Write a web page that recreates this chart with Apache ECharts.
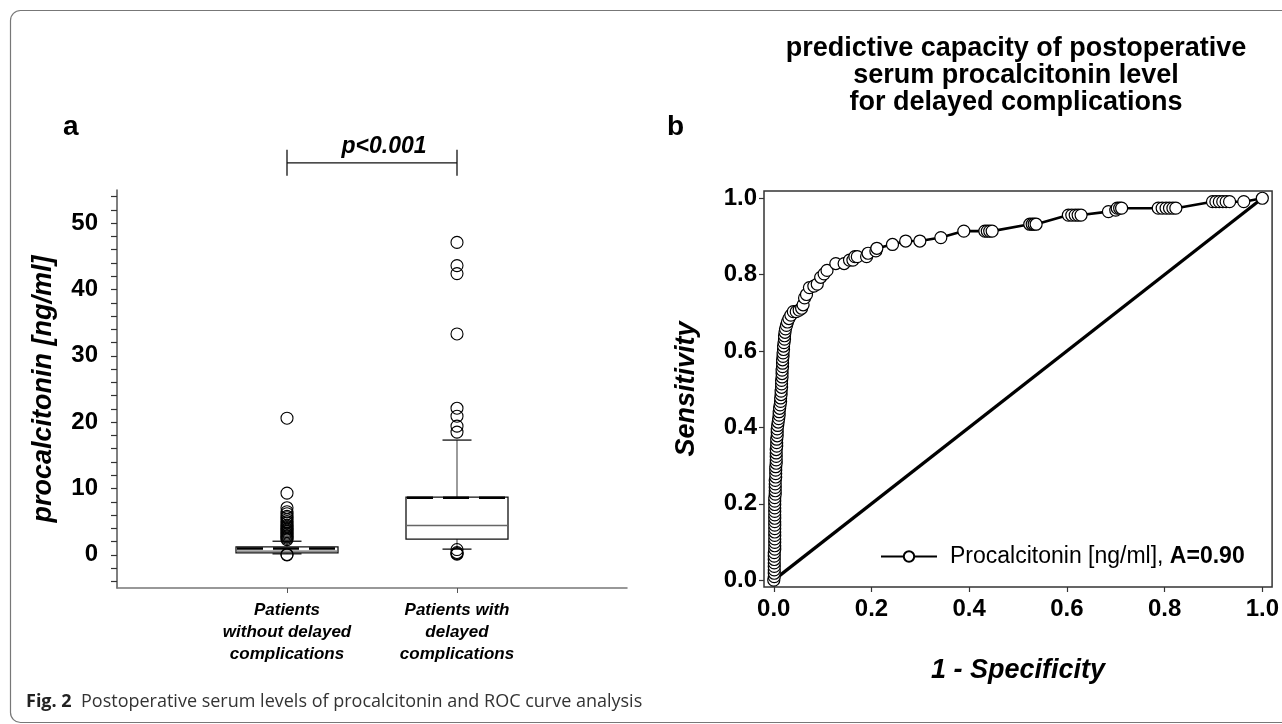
<!DOCTYPE html>
<html>
<head>
<meta charset="utf-8">
<script src="https://cdn.jsdelivr.net/npm/echarts@6/dist/echarts.min.js"></script>
<style>
html,body{margin:0;padding:0;background:#fff;}
#chart{width:1282px;height:724px;}
</style>
</head>
<body>
<div id="chart"></div>
<script>
// ---------- DATA ----------
const categories = ['', 'Patients\nwithout delayed\ncomplications', 'Patients with\ndelayed\ncomplications', ''];
// [min, Q1, median, Q3, max] per group
const boxWithout = [0.15, 0.3, 0.55, 1.2, 2.05];
const boxWith = [0.86, 2.37, 4.42, 8.7, 17.3];
const meanWithout = 0.95;
const meanWith = 8.6;
const outliersWithout = [20.6, 9.3, 7.1, 6.5, 6.2, 5.8, 5.6, 5.3, 5.0, 4.8, 4.5, 4.3, 4.1, 3.9, 3.7, 3.5, 3.3, 3.1, 2.9, 2.7, 2.5, 2.3, 0.05, 0.0];
const outliersWith = [47.1, 43.6, 42.4, 33.3, 22.1, 20.9, 19.4, 18.5, 0.8, 0.35, 0.2, 0.1];
const yTicksA = [-4, -2, 0, 2, 4, 6, 8, 10, 12, 14, 16, 18, 20, 22, 24, 26, 28, 30, 32, 34, 36, 38, 40, 42, 44, 46, 48, 50, 52, 54];
const yLabelsA = [0, 10, 20, 30, 40, 50];
const pValueText = 'p<0.001';

const rocFpr = [0, 0.001, 0.001, 0.001, 0.001, 0.001, 0.001, 0.001, 0.001, 0.002,
  0.002, 0.002, 0.002, 0.002, 0.002, 0.002, 0.002, 0.002, 0.002, 0.002,
  0.002, 0.002, 0.002, 0.002, 0.002, 0.003, 0.003, 0.003, 0.003, 0.003,
  0.004, 0.004, 0.004, 0.004, 0.005, 0.005, 0.005, 0.005, 0.005, 0.006,
  0.006, 0.006, 0.007, 0.007, 0.007, 0.008, 0.009, 0.010, 0.011, 0.011,
  0.012, 0.013, 0.014, 0.014, 0.015, 0.015, 0.016, 0.016, 0.016, 0.017,
  0.017, 0.017, 0.018, 0.018, 0.018, 0.019, 0.019, 0.020, 0.020, 0.021,
  0.022, 0.022, 0.023, 0.024, 0.026, 0.028, 0.031, 0.035, 0.040, 0.046,
  0.052, 0.057, 0.060, 0.063, 0.067, 0.073, 0.082, 0.089, 0.096, 0.103,
  0.109, 0.127, 0.144, 0.155, 0.162, 0.166, 0.171, 0.190, 0.193, 0.209,
  0.211, 0.243, 0.270, 0.299, 0.342, 0.389, 0.432, 0.437, 0.442, 0.447,
  0.524, 0.529, 0.533, 0.537, 0.603, 0.610, 0.617, 0.623, 0.629, 0.685,
  0.700, 0.703, 0.708, 0.712, 0.787, 0.795, 0.803, 0.810, 0.817, 0.823,
  0.898, 0.905, 0.912, 0.919, 0.926, 0.933, 0.962, 1.0];
const rocTpr = [0, 0.009, 0.018, 0.027, 0.036, 0.045, 0.054, 0.063, 0.072, 0.081,
  0.090, 0.099, 0.108, 0.117, 0.126, 0.135, 0.144, 0.153, 0.162, 0.171,
  0.180, 0.189, 0.198, 0.207, 0.216, 0.225, 0.234, 0.243, 0.252, 0.261,
  0.270, 0.279, 0.288, 0.297, 0.306, 0.315, 0.324, 0.333, 0.342, 0.351,
  0.360, 0.369, 0.378, 0.387, 0.396, 0.405, 0.414, 0.423, 0.432, 0.441,
  0.450, 0.459, 0.468, 0.477, 0.486, 0.495, 0.505, 0.514, 0.523, 0.532,
  0.541, 0.550, 0.559, 0.568, 0.577, 0.586, 0.595, 0.604, 0.613, 0.622,
  0.631, 0.640, 0.649, 0.658, 0.667, 0.676, 0.685, 0.694, 0.703, 0.703,
  0.707, 0.712, 0.721, 0.739, 0.748, 0.766, 0.770, 0.775, 0.793, 0.802,
  0.811, 0.829, 0.829, 0.838, 0.838, 0.847, 0.847, 0.847, 0.856, 0.862,
  0.869, 0.879, 0.888, 0.888, 0.897, 0.914, 0.914, 0.914, 0.914, 0.914,
  0.932, 0.932, 0.932, 0.932, 0.956, 0.956, 0.956, 0.956, 0.956, 0.965,
  0.969, 0.974, 0.974, 0.974, 0.974, 0.974, 0.974, 0.974, 0.974, 0.974,
  0.991, 0.991, 0.991, 0.991, 0.991, 0.991, 0.991, 1.0];
const diagX = [0, 1];
const diagY = [0, 1];
const rocTicks = [0, 0.2, 0.4, 0.6, 0.8, 1.0];
const legendLabel = 'Procalcitonin [ng/ml], ';
const aucLabel = 'A=0.90';
const titleLines = ['predictive capacity of postoperative', 'serum procalcitonin level', 'for delayed complications'];
const yNameA = 'procalcitonin [ng/ml]';
const yNameB = 'Sensitivity';
const xNameB = '1 - Specificity';
const captionBold = 'Fig. 2';
const captionText = 'Postoperative serum levels of procalcitonin and ROC curve analysis';

// ---------- BUILD ----------
const FONT = '"Liberation Sans", Arial, sans-serif';
const boxData = [[1].concat(boxWithout, [meanWithout]), [2].concat(boxWith, [meanWith])];
const outlierData = outliersWithout.map(v => [1, v]).concat(outliersWith.map(v => [2, v]));
const rocData = rocFpr.map((x, i) => [x, rocTpr[i]]);
const diagData = diagX.map((x, i) => [x, diagY[i]]);

function renderBox(params, api) {
  const x = api.value(0);
  const pMin = api.coord([x, api.value(1)]);
  const pQ1 = api.coord([x, api.value(2)]);
  const pMed = api.coord([x, api.value(3)]);
  const pQ3 = api.coord([x, api.value(4)]);
  const pMax = api.coord([x, api.value(5)]);
  const pMean = api.coord([x, api.value(6)]);
  const cx = pQ1[0];
  const hw = 51, cw = 14.5;
  const wStyle = { stroke: '#666', lineWidth: 1.3 };
  const cStyle = { stroke: '#111', lineWidth: 1.3 };
  return {
    type: 'group',
    children: [
      { type: 'line', shape: { x1: cx, y1: pQ3[1], x2: cx, y2: pMax[1] }, style: wStyle },
      { type: 'line', shape: { x1: cx, y1: pQ1[1], x2: cx, y2: pMin[1] }, style: wStyle },
      { type: 'line', shape: { x1: cx - cw, y1: pMax[1], x2: cx + cw, y2: pMax[1] }, style: cStyle },
      { type: 'line', shape: { x1: cx - cw, y1: pMin[1], x2: cx + cw, y2: pMin[1] }, style: cStyle },
      { type: 'rect', shape: { x: cx - hw, y: pQ3[1], width: hw * 2, height: pQ1[1] - pQ3[1] },
        style: { fill: '#fff', stroke: '#111', lineWidth: 1.3 } },
      { type: 'line', shape: { x1: cx - hw, y1: pMed[1], x2: cx + hw, y2: pMed[1] }, style: { stroke: '#666', lineWidth: 1.3 } },
      { type: 'line', shape: { x1: cx - hw + 1, y1: pMean[1], x2: cx + hw - 1, y2: pMean[1] },
        style: { stroke: '#000', lineWidth: 2.5, lineDash: [26, 10] } }
    ]
  };
}

function renderBracket(params, api) {
  const p1 = api.coord([api.value(0), api.value(2)]);
  const p2 = api.coord([api.value(1), api.value(2)]);
  const y = p1[1];
  return {
    type: 'group',
    children: [
      { type: 'line', shape: { x1: p1[0], y1: y, x2: p2[0], y2: y }, style: { stroke: '#111', lineWidth: 1.3 } },
      { type: 'line', shape: { x1: p1[0], y1: y - 13, x2: p1[0], y2: y + 13 }, style: { stroke: '#111', lineWidth: 1.3 } },
      { type: 'line', shape: { x1: p2[0], y1: y - 13, x2: p2[0], y2: y + 13 }, style: { stroke: '#111', lineWidth: 1.3 } },
      { type: 'text', x: (p1[0] + p2[0]) / 2 + 12, y: y - 16,
        style: { text: pValueText, font: 'italic bold 23px ' + FONT, fill: '#000', align: 'center', verticalAlign: 'middle' } }
    ]
  };
}

const chart = echarts.init(document.getElementById('chart'), null, { renderer: 'canvas' });
const tickLabelStyle = { fontFamily: FONT, fontWeight: 'bold', fontSize: 24, color: '#000' };
const axisNameStyle = { fontFamily: FONT, fontWeight: 'bold', fontStyle: 'italic', fontSize: 27, color: '#000' };

const option = {
  animation: false,
  backgroundColor: '#fff',
  grid: [
    { left: 117, top: 190, width: 510, height: 398, show: false },
    { left: 764, top: 191, width: 509, height: 396, show: true, borderColor: '#333', borderWidth: 1.5, backgroundColor: 'transparent' }
  ],
  xAxis: [
    {
      gridIndex: 0, type: 'category', data: categories, boundaryGap: false,
      axisLine: { show: true, onZero: false, lineStyle: { color: '#777', width: 1.5 } },
      axisTick: { show: true, length: 5, interval: (i) => i === 1 || i === 2, lineStyle: { color: '#555' } },
      axisLabel: { interval: (i) => i === 1 || i === 2, margin: 11, fontFamily: FONT, fontWeight: 'bold', fontStyle: 'italic', fontSize: 17, lineHeight: 22, color: '#000' },
      splitLine: { show: false }
    },
    {
      gridIndex: 1, type: 'value', min: -0.02, max: 1.02,
      axisLine: { show: false, onZero: false },
      axisTick: { show: true, length: 5, customValues: rocTicks, lineStyle: { color: '#333', width: 1.2 } },
      axisLabel: Object.assign({ customValues: rocTicks, margin: 10, formatter: v => v.toFixed(1) }, tickLabelStyle),
      splitLine: { show: false },
      name: xNameB, nameLocation: 'middle', nameGap: 70, nameTextStyle: axisNameStyle
    }
  ],
  yAxis: [
    {
      gridIndex: 0, type: 'value', min: -5, max: 55,
      axisLine: { show: true, onZero: false, lineStyle: { color: '#555', width: 1.5 } },
      axisTick: { show: true, length: 6, customValues: yTicksA, lineStyle: { color: '#333', width: 1.2 } },
      axisLabel: Object.assign({ customValues: yLabelsA, margin: 19 }, tickLabelStyle),
      splitLine: { show: false },
      name: yNameA, nameLocation: 'middle', nameGap: 60, nameTextStyle: axisNameStyle
    },
    {
      gridIndex: 1, type: 'value', min: -0.018, max: 1.019,
      axisLine: { show: false, onZero: false },
      axisTick: { show: true, length: 5, customValues: rocTicks, lineStyle: { color: '#333', width: 1.2 } },
      axisLabel: Object.assign({ customValues: rocTicks, margin: 7, formatter: v => v.toFixed(1) }, tickLabelStyle),
      splitLine: { show: false },
      name: yNameB, nameLocation: 'middle', nameGap: 64, nameTextStyle: axisNameStyle
    }
  ],
  legend: {
    data: ['roc'],
    left: 880, top: 545,
    itemWidth: 56, itemHeight: 13,
    padding: 0,
    formatter: () => '{g| }' + legendLabel + '{b|' + aucLabel + '}',
    textStyle: {
      fontFamily: FONT, fontSize: 23, color: '#000',
      rich: { g: { width: 8 }, b: { fontFamily: FONT, fontSize: 23, fontWeight: 'bold', color: '#000' } }
    }
  },
  series: [
    {
      type: 'custom', xAxisIndex: 0, yAxisIndex: 0, renderItem: renderBox,
      data: boxData, encode: { x: 0, y: [1, 2, 3, 4, 5, 6] }, z: 2
    },
    {
      type: 'scatter', xAxisIndex: 0, yAxisIndex: 0, data: outlierData,
      symbol: 'circle', symbolSize: 12,
      itemStyle: { color: 'rgba(255,255,255,0)', borderColor: '#000', borderWidth: 1.1, opacity: 1 },
      z: 3
    },
    {
      type: 'custom', xAxisIndex: 0, yAxisIndex: 0, renderItem: renderBracket,
      data: [[1, 2, 59.1]], clip: false, silent: true, z: 3
    },
    {
      type: 'line', xAxisIndex: 1, yAxisIndex: 1, data: diagData, name: 'diag',
      showSymbol: false, symbol: 'none', lineStyle: { color: '#000', width: 3.2 }, z: 2
    },
    {
      type: 'line', name: 'roc', xAxisIndex: 1, yAxisIndex: 1, data: rocData,
      symbol: 'circle', symbolSize: 12, showAllSymbol: true,
      lineStyle: { color: '#000', width: 2.6 },
      itemStyle: { color: '#fff', borderColor: '#000', borderWidth: 1.2 },
      z: 3
    }
  ],
  graphic: [
    { type: 'rect', shape: { x: 10.5, y: 10.5, width: 1400, height: 712, r: 10 },
      style: { fill: 'none', stroke: '#777', lineWidth: 1.2 }, silent: true },
    { type: 'text', left: 63, top: 113, style: { text: 'a', font: 'bold 28px ' + FONT, fill: '#000' } },
    { type: 'text', left: 667, top: 113, style: { text: 'b', font: 'bold 28px ' + FONT, fill: '#000' } },
    { type: 'text', x: 1016, y: 35,
      style: { text: titleLines.join('\n'), font: 'bold 27px ' + FONT, lineHeight: 27, fill: '#000', align: 'center', verticalAlign: 'top' } },
    { type: 'text', left: 26, top: 693,
      style: { text: '{b|' + captionBold + '}  ' + captionText, font: '18px "Open Sans", sans-serif', fill: '#333',
        rich: { b: { font: 'bold 18px "Open Sans", sans-serif', fill: '#222' } } } }
  ]
};
chart.setOption(option);
</script>
</body>
</html>
